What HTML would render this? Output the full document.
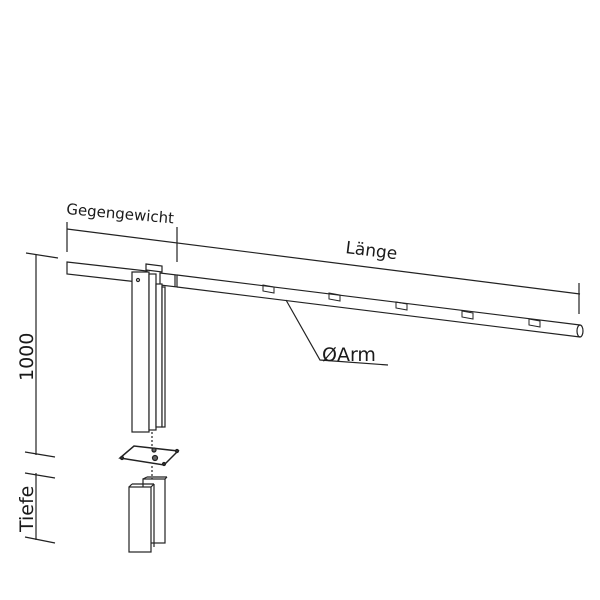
<!DOCTYPE html>
<html><head><meta charset="utf-8"><style>
html,body{margin:0;padding:0;background:#fff;width:600px;height:600px;overflow:hidden}
svg{display:block}
text{font-family:"DejaVu Sans","Liberation Sans",sans-serif;fill:#1a1a1a}
</style></head><body>
<svg width="600" height="600" viewBox="0 0 600 600" xmlns="http://www.w3.org/2000/svg">
<g stroke="#222" stroke-width="1.2" fill="none">
<line x1="67" y1="229" x2="580" y2="294"/>
<line x1="67" y1="222" x2="67" y2="252"/>
<line x1="177" y1="227" x2="177" y2="262"/>
<line x1="579" y1="283" x2="579" y2="314"/>
<polygon points="67,262 147,271 147,283 67,274" fill="#fff"/>
<polygon points="160,273 177,275 177,287 160,285" fill="#fff"/>
<line x1="175" y1="275" x2="175" y2="287"/>
<line x1="177" y1="275" x2="580" y2="325"/>
<line x1="177" y1="287" x2="580" y2="337"/>
<ellipse cx="580" cy="331" rx="3" ry="6"/>
<g stroke-width="1">
<polygon points="263,285 274,287 274,293 263,291"/>
<polygon points="329,293 340,295 340,301 329,299"/>
<polygon points="396,302 407,304 407,310 396,308"/>
<polygon points="462,311 473,313 473,319 462,317"/>
<polygon points="529,319 540,321 540,327 529,325"/>
</g>
<polyline points="286,300 320,360 388,365"/>
<polygon points="146,264 162,266 162,272 146,270" fill="#fff"/>
<rect x="132" y="272" width="17" height="160" fill="#fff"/>
<rect x="149" y="274" width="7" height="156" fill="#fff"/>
<rect x="156" y="284" width="6" height="143" fill="#fff"/>
<rect x="162" y="287" width="3" height="140" fill="#fff"/>
<circle cx="138" cy="280" r="1.5"/>
<line x1="152" y1="432" x2="152" y2="460" stroke-dasharray="2,2"/>
<polygon points="120,458 134,446 178,451 164,465" fill="#fff" stroke-width="1.5"/>
<circle cx="155" cy="458" r="2.5" fill="#666"/><circle cx="154" cy="450" r="2" fill="#666"/>
<circle cx="122" cy="458" r="1.5" fill="#333"/><circle cx="164" cy="464" r="1.5" fill="#333"/><circle cx="177" cy="451" r="1.5" fill="#333"/>
<line x1="152" y1="466" x2="152" y2="485" stroke-dasharray="2,2"/>
<rect x="143" y="479" width="22" height="64" fill="#fff"/>
<line x1="143" y1="479" x2="147" y2="477"/><line x1="165" y1="479" x2="167" y2="477"/><line x1="147" y1="477" x2="167" y2="477"/>
<rect x="129" y="487" width="22" height="65" fill="#fff"/>
<line x1="129" y1="487" x2="132" y2="484"/><line x1="132" y1="484" x2="154" y2="484"/><line x1="151" y1="487" x2="154" y2="484"/><line x1="154" y1="484" x2="154" y2="547"/>
<line x1="36" y1="255" x2="36" y2="455"/>
<line x1="26" y1="253" x2="58" y2="258"/>
<line x1="25" y1="452" x2="55" y2="457"/>
<line x1="36" y1="473" x2="36" y2="540"/>
<line x1="25" y1="473" x2="55" y2="478"/>
<line x1="25" y1="537" x2="55" y2="543"/>
</g>
<text x="66" y="214" font-size="15" font-weight="500" transform="rotate(5 66 214)">Gegengewicht</text>
<text x="345" y="253" font-size="17" transform="rotate(7 345 253)">Länge</text>
<text x="322" y="361" font-size="19" font-weight="500">ØArm</text>
<text x="0" y="0" font-size="19" font-weight="500" transform="translate(33 381) rotate(-90)">1000</text>
<text x="0" y="0" font-size="19" font-weight="500" transform="translate(33 532) rotate(-90)">Tiefe</text>
</svg>
</body></html>
